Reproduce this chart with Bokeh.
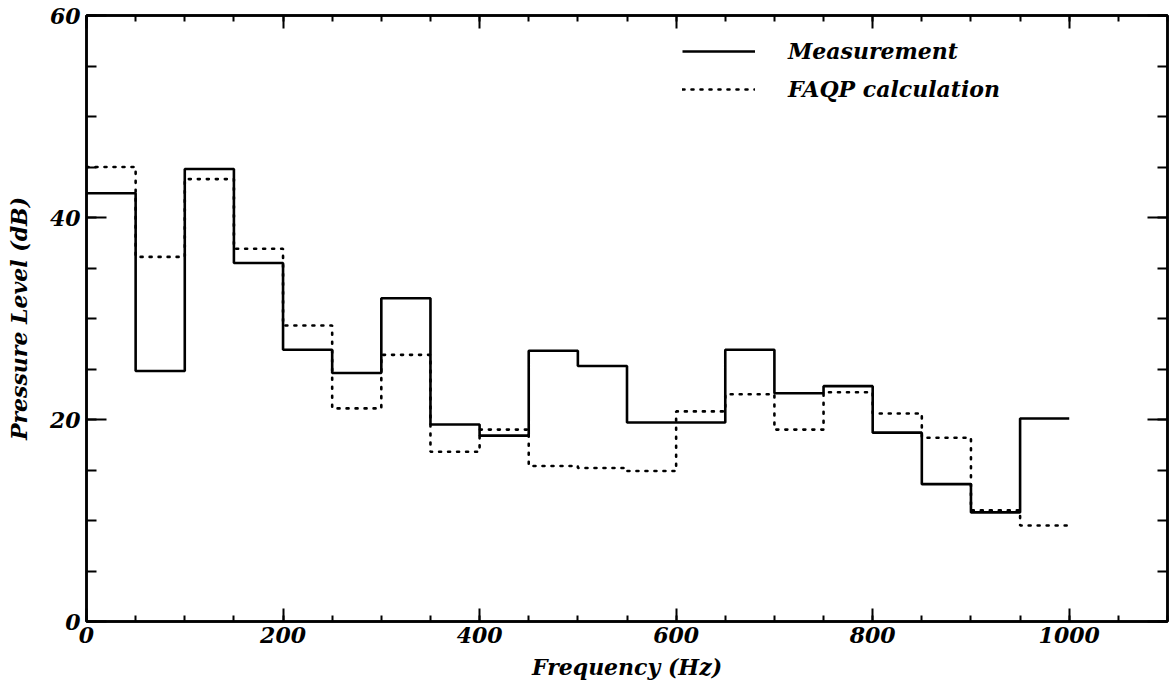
from bokeh.plotting import figure
from bokeh.models import (Range1d, LinearAxis, SingleIntervalTicker, Legend, LegendItem)
from bokeh.embed import file_html
from bokeh.resources import INLINE

# ---- data ----
bin_edges = [0, 50, 100, 150, 200, 250, 300, 350, 400, 450, 500,
             550, 600, 650, 700, 750, 800, 850, 900, 950, 1000]
measurement = [42.4, 24.8, 44.8, 35.5, 26.9, 24.6, 32.0, 19.5, 18.4, 26.8,
               25.3, 19.7, 19.7, 26.9, 22.6, 23.3, 18.7, 13.6, 10.8, 20.1]
faqp = [45.0, 36.1, 43.8, 36.9, 29.3, 21.1, 26.4, 16.8, 19.0, 15.4,
        15.2, 14.9, 20.8, 22.5, 19.0, 22.7, 20.6, 18.2, 11.0, 9.5]
x_label = "Frequency (Hz)"
y_label = "Pressure Level (dB)"
series_names = ["Measurement", "FAQP calculation"]

FONT = "DejaVu Serif"

p = figure(width=1170, height=688, output_backend="svg", toolbar_location=None,
           x_range=Range1d(0, 1100), y_range=Range1d(0, 60),
           x_axis_type=None, y_axis_type=None,
           min_border_left=86, min_border_right=3, min_border_top=15,
           min_border_bottom=67)
p.background_fill_color = "white"
p.border_fill_color = "white"
p.outline_line_color = "black"
p.outline_line_width = 2.5
p.xgrid.visible = False
p.ygrid.visible = False


def make_axis(kind, labelled, side):
    if kind == "x":
        ticker = SingleIntervalTicker(interval=200, num_minor_ticks=4)
        maj, mnr = 13, 6
    else:
        ticker = SingleIntervalTicker(interval=20, num_minor_ticks=4)
        maj, mnr = 20, 10
    ax = LinearAxis(ticker=ticker)
    ax.major_tick_in = maj
    ax.major_tick_out = 0
    ax.minor_tick_in = mnr
    ax.minor_tick_out = 0
    ax.major_tick_line_width = 2
    ax.minor_tick_line_width = 2
    ax.major_tick_line_color = "black"
    ax.minor_tick_line_color = "black"
    ax.axis_line_width = 2.5
    ax.axis_line_color = "black"
    if labelled:
        ax.major_label_text_font = FONT
        ax.major_label_text_font_style = "bold italic"
        ax.major_label_text_font_size = "22px"
        ax.major_label_text_color = "black"
        ax.axis_label_text_font = FONT
        ax.axis_label_text_font_style = "bold italic"
        ax.axis_label_text_font_size = "22px"
        ax.axis_label_text_color = "black"
        if kind == "x":
            ax.axis_label = x_label
            ax.major_label_standoff = 5
            ax.axis_label_standoff = 8
        else:
            ax.axis_label = y_label
            ax.major_label_standoff = 6
            ax.axis_label_standoff = 15
    else:
        # mirror axis: ticks only, labels not painted
        ax.major_label_text_color = None
        ax.major_label_text_font_size = "1px"
        ax.major_label_standoff = 0
    p.add_layout(ax, side)
    return ax


make_axis("x", True, "below")
make_axis("y", True, "left")
make_axis("x", False, "above")
make_axis("y", False, "right")

meas_ext = measurement + [measurement[-1]]
faqp_ext = faqp + [faqp[-1]]

r_meas = p.step(x=bin_edges, y=meas_ext, mode="after",
                line_color="black", line_width=2.6)
r_faqp = p.step(x=bin_edges, y=faqp_ext, mode="after",
                line_color="black", line_width=2.6, line_dash="2 7",
                line_cap="round")

legend = Legend(items=[LegendItem(label=series_names[0], renderers=[r_meas]),
                       LegendItem(label=series_names[1], renderers=[r_faqp])],
                location=(596, 519))
legend.padding = 0
legend.margin = 0
legend.spacing = 12
legend.glyph_width = 73
legend.glyph_height = 20
legend.label_height = 20
legend.label_standoff = 33
legend.label_text_font = FONT
legend.label_text_font_style = "bold italic"
legend.label_text_font_size = "22px"
legend.label_text_color = "black"
legend.border_line_color = None
legend.background_fill_alpha = 0
p.add_layout(legend, "center")

open("out.html", "w").write(file_html(p, INLINE))
